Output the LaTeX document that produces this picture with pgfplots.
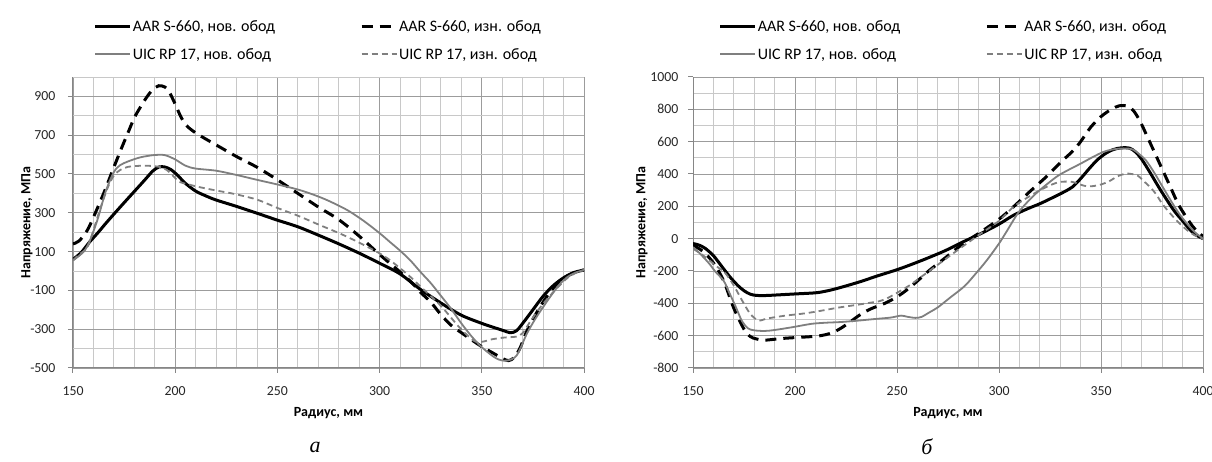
\documentclass[border=0pt]{standalone}
\usepackage{pgfplots}
\pgfplotsset{compat=1.18}
\usepackage{fontspec}
\setmainfont{Carlito}
\newfontfamily\capfont{Liberation Serif}
\definecolor{gridmaj}{HTML}{9C9C9C}
\definecolor{gridmin}{HTML}{C8C8C8}
\definecolor{axgray}{HTML}{868686}
\definecolor{uic}{HTML}{7F7F7F}
\pgfplotsset{
  panel/.style={
    scale only axis, width=511pt, height=291pt,
    xmin=150, xmax=400, xtick={150,200,...,400},
    minor xtick={160,170,180,190,210,220,230,240,260,270,280,290,310,320,330,340,360,370,380,390},
    grid=both,
    major grid style={gridmaj, line width=0.9pt},
    minor grid style={gridmin, line width=0.9pt},
    axis x line*=bottom, axis y line*=left,
    axis line style={axgray, line width=1pt},
    tick style={axgray, line width=1pt},
    major tick length=5pt, tick align=outside, minor tick length=0pt,
    ticklabel style={font=\fontsize{13.8}{16}\selectfont, text=black!85},
    xticklabel style={yshift=-10pt},
    /pgf/number format/assume math mode=true,
    /pgf/number format/set thousands separator={},
    scaled ticks=false,
    xlabel={\bfseries Радиус, мм},
    ylabel={\bfseries Напряжение, МПа},
    label style={font=\fontsize{14}{16}\selectfont},
    xlabel style={at={(axis description cs:0.5,-0.155)}, anchor=center},
    legend columns=2,
    legend cell align=left,
    legend image code/.code={\draw[#1] (0pt,0pt) -- (35pt,0pt);},
    legend style={draw=none, fill=none, font=\fontsize{16}{19}\selectfont,
      anchor=center, row sep=13pt, inner sep=0pt,
      nodes={inner sep=1pt},
      /tikz/every even column/.append style={column sep=84pt}},
  },
  aarnew/.style={black, line width=3pt, smooth},
  aarworn/.style={black, line width=3pt, dash pattern=on 11pt off 7pt, smooth},
  uicnew/.style={uic, line width=1.8pt, smooth},
  uicworn/.style={uic, line width=1.8pt, dash pattern=on 6pt off 4pt, smooth},
}
\begin{document}
\begin{tikzpicture}
\useasboundingbox (0,0) rectangle (1212pt,462pt);
% ---------------- panel a ----------------
\begin{axis}[panel, at={(73pt,94pt)}, anchor=south west,
  ymin=-500, ymax=1000, ytick={-500,-300,...,900},
  minor ytick={-400,-200,0,200,400,600,800,1000},
  yticklabel style={xshift=-9pt},
  ylabel style={at={(axis description cs:-0.090,0.5)}, anchor=center},
  legend style={at={(axis description cs:0.479,1.125)}}]
\addplot[aarnew] coordinates {
(150,60) (154,95) (158,148) (162,195) (166,245) (170,293) (175,352) (180,410) (185,468)
(189,515) (192,536) (195,536) (198,522) (201,495) (205,452) (210,412) (215,387) (220,366)
(230,333) (240,298) (250,262) (260,228) (270,185) (280,140) (290,92) (300,40) (310,-15)
(320,-95) (330,-165) (340,-228) (350,-270) (355,-288) (360,-305) (364,-318) (367,-308)
(370,-270) (375,-200) (380,-130) (385,-75) (390,-35) (395,-8) (400,5)};
\addlegendentry{AAR S-660, нов. обод}
\addplot[aarworn] coordinates {
(150,140) (153,155) (157,210) (160,277) (165,400) (170,535) (174,640) (177,715) (180,790)
(183,845) (186,895) (189,935) (192,955) (195,948) (197,925) (200,860) (203,790) (206,745)
(210,712) (215,680) (220,650) (230,590) (240,535) (250,470) (260,400) (270,330) (280,265)
(290,180) (300,85) (305,40) (310,-5) (316,-63) (320,-110) (325,-160) (330,-225) (335,-280)
(340,-318) (345,-355) (350,-390) (355,-420) (360,-450) (363,-462) (366,-445) (369,-390)
(372,-310) (376,-230) (380,-160) (384,-100) (388,-55) (392,-25) (396,-5) (400,5)};
\addlegendentry{AAR S-660, изн. обод}
\addplot[uicnew] coordinates {
(150,55) (155,97) (158,150) (162,265) (166,410) (170,510) (173,545) (177,565) (183,586)
(190,598) (195,597) (200,575) (205,543) (210,528) (220,517) (230,495) (240,470) (250,446)
(260,420) (268,392) (275,362) (284,315) (292,260) (300,195) (305,150) (310,105) (315,55)
(320,-5) (325,-62) (330,-128) (335,-195) (340,-270) (345,-337) (350,-393) (357,-450) (362,-462)
(367,-436) (372,-324) (376,-250) (380,-186) (384,-125) (388,-70) (392,-30) (396,-8) (400,5)};
\addlegendentry{UIC RP 17, нов. обод}
\addplot[uicworn] coordinates {
(150,55) (153,85) (157,122) (160,210) (163,311) (167,430) (170,492) (173,520) (177,537)
(185,543) (192,537) (196,520) (199,490) (202,460) (207,445) (212,432) (220,415) (229,397)
(240,368) (250,325) (260,285) (270,240) (284,177) (300,91) (307,40) (315,-30) (320,-80)
(330,-180) (339,-290) (346,-359) (350,-365) (355,-352) (361,-343) (367,-338) (370,-320)
(373,-272) (377,-210) (380,-169) (384,-120) (388,-75) (392,-35) (396,-10) (400,5)};
\addlegendentry{UIC RP 17, изн. обод}
\end{axis}
% ---------------- panel b ----------------
\begin{axis}[panel, at={(693pt,94pt)}, anchor=south west, width=510pt,
  ymin=-800, ymax=1000, ytick={-800,-600,...,1000},
  minor ytick={-700,-500,-300,-100,100,300,500,700,900},
  yticklabel style={xshift=-6pt},
  ylabel style={at={(axis description cs:-0.100,0.5)}, anchor=center},
  legend style={at={(axis description cs:0.490,1.125)}}]
\addplot[aarnew] coordinates {
(150,-30) (153,-40) (156,-60) (160,-105) (164,-170) (168,-235) (172,-290) (175,-322)
(178,-343) (181,-351) (185,-352) (190,-349) (200,-342) (210,-335) (215,-325) (220,-310)
(227,-285) (233,-262) (240,-232) (250,-192) (258,-155) (266,-115) (274,-72) (282,-22)
(291,31) (300,90) (307,144) (314,185) (320,216) (326,252) (332,290) (336,320) (340,371)
(344,430) (348,485) (352,525) (356,551) (360,562) (364,560) (367,535) (370,490) (374,410)
(378,325) (382,245) (386,170) (390,110) (394,50) (397,20) (400,0)};
\addlegendentry{AAR S-660, нов. обод}
\addplot[aarworn] coordinates {
(150,-40) (155,-80) (160,-150) (165,-260) (170,-430) (175,-560) (178,-605) (181,-620)
(185,-628) (193,-618) (200,-612) (210,-604) (215,-594) (219,-578) (223,-550) (227,-515)
(232,-470) (237,-435) (244,-400) (250,-360) (255,-315) (260,-262) (265,-205) (270,-155)
(275,-105) (282,-35) (291,41) (300,120) (307,196) (315,290) (323,381) (330,470) (336,540)
(340,600) (345,690) (350,755) (355,800) (359,822) (363,820) (366,790) (369,730) (372,650)
(376,540) (380,430) (384,320) (388,210) (392,130) (395,75) (398,35) (400,15)};
\addlegendentry{AAR S-660, изн. обод}
\addplot[uicnew] coordinates {
(150,-52) (154,-100) (158,-155) (161,-205) (165,-260) (168,-340) (171,-423) (174,-510)
(177,-555) (180,-567) (185,-571) (190,-565) (199,-547) (208,-527) (215,-520) (222,-516)
(230,-508) (240,-496) (247,-488) (252,-476) (255,-483) (259,-490) (262,-484) (266,-455)
(270,-425) (276,-365) (283,-295) (288,-225) (294,-134) (300,-30) (304,50) (310,170)
(318,278) (328,381) (334,425) (340,464) (346,505) (351,536) (355,550) (359,557) (363,558)
(366,549) (369,520) (372,485) (376,410) (380,325) (384,240) (388,160) (392,95) (396,40) (400,0)};
\addlegendentry{UIC RP 17, нов. обод}
\addplot[uicworn] coordinates {
(150,-62) (154,-95) (158,-134) (162,-175) (166,-216) (170,-290) (174,-381) (178,-464)
(182,-506) (186,-495) (190,-486) (196,-475) (203,-465) (210,-452) (222,-425) (230,-410)
(237,-396) (241,-388) (245,-370) (250,-335) (256,-290) (262,-235) (268,-180) (274,-124)
(282,-50) (291,31) (300,110) (307,196) (314,255) (320,299) (325,330) (330,351) (336,351)
(340,334) (343,324) (346,325) (350,335) (354,355) (358,385) (362,402) (365,400) (368,390)
(371,355) (374,320) (377,275) (380,216) (384,155) (388,100) (392,55) (396,20) (400,0)};
\addlegendentry{UIC RP 17, изн. обод}
\end{axis}
\node[font=\capfont\itshape\fontsize{22}{24}\selectfont] at (315pt,15pt) {а};
\node[font=\capfont\itshape\fontsize{22}{24}\selectfont] at (927pt,15pt) {б};
\end{tikzpicture}
\end{document}
